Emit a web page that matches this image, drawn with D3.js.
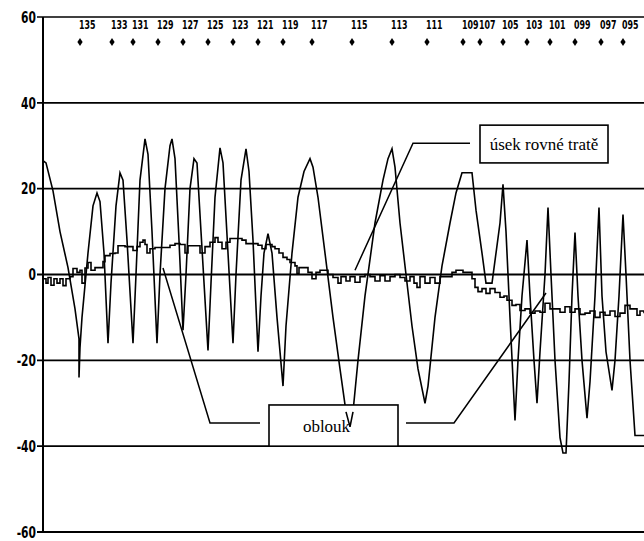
<!DOCTYPE html>
<html>
<head>
<meta charset="utf-8">
<script src="https://cdn.jsdelivr.net/npm/d3@7"></script>
<style>
  body { margin: 0; background: #fff; }
  svg { display: block; }
  .tick-label { font-family: 'DejaVu Sans', sans-serif; font-stretch: condensed; font-weight: bold; }
  .note { font-family: 'Liberation Serif', 'DejaVu Serif', serif; font-size: 17px; }
</style>
</head>
<body>
<script>
/* global d3 */
// position along the track (chart units), value
var bigPos = [0, 3, 10, 17, 25, 32, 36, 36, 37, 39, 45, 50, 54, 57, 61, 65, 68, 73, 77, 80, 84, 90, 93, 97, 102, 105, 109, 114, 117, 122, 127, 129, 132, 136, 140, 143, 147, 151, 154, 158, 165, 168, 172, 177, 180, 185, 190, 193, 198, 203, 206, 210, 215, 218, 221, 225, 229, 234, 240, 243, 249, 255, 261, 267, 270, 275, 282, 290, 297, 303, 307, 310, 315, 322, 332, 340, 345, 349, 352, 357, 363, 369, 375, 382, 385, 392, 399, 407, 413, 419, 429, 433, 439, 443, 449, 453, 457, 460, 463, 467, 472, 475, 479, 484, 487, 491, 494, 497, 502, 505, 508, 512, 517, 520, 523, 526, 529, 532, 535, 539, 544, 547, 552, 556, 559, 563, 569, 572, 576, 580, 583, 587, 592, 601]
var bigVal = [26.5, 26, 19.5, 10, 1.6, -8, -15, -24, -17, -10, 5, 16, 19, 17, 5, -16, -2, 16, 23.7, 22, 8, -16, 0, 22, 31.6, 28, 10, -16, 0, 20, 30, 31.6, 27, 8, -13, 0, 20, 27, 26, 10, -17.7, -2, 18, 29.5, 26, 5, -16, 0, 22, 29.3, 24, 8, -18, -5, 5, 9.5, 5, -10, -26, -12, 5, 18, 24, 27, 25, 18, 5, -10, -22, -32, -35.5, -32, -20, -5, 12, 22, 27, 29.3, 25, 12, 0, -12, -22, -30, -26, -10, 2, 12, 19, 23.7, 23.7, 15, 5, -2, -2, 5, 12, 21, 10, -10, -34, -20, -5, 8, -5, -20, -30, -18, 0, 15.6, 0, -20, -38, -41.6, -41.6, -25, -5, 9.8, -5, -20, -33.5, -25, -5, 15.6, -5, -18, -27, -20, -5, 14, 0, -20, -37.5, -37.5]

var smallPos = [0, 3, 5, 8, 11, 14, 17, 20, 23, 27, 30, 34, 37, 39, 42, 45, 48, 52, 57, 60, 62, 67, 72, 75, 82, 87, 90, 94, 97, 100, 102, 104, 107, 112, 117, 122, 127, 132, 137, 142, 145, 152, 157, 162, 167, 172, 175, 179, 183, 187, 193, 199, 203, 209, 215, 219, 223, 229, 232, 236, 240, 244, 247, 252, 254, 256, 261, 265, 269, 273, 277, 282, 285, 290, 295, 298, 303, 307, 312, 317, 322, 327, 332, 337, 342, 347, 352, 357, 362, 367, 371, 374, 377, 382, 387, 392, 397, 403, 409, 413, 416, 420, 425, 429, 432, 435, 439, 443, 447, 452, 457, 461, 464, 469, 473, 477, 482, 487, 492, 497, 502, 507, 512, 517, 522, 527, 532, 537, 542, 547, 552, 557, 562, 567, 572, 577, 582, 587, 590, 594, 597, 601]
var smallVal = [-1, -2, -0.7, -2.5, -1, -2, -1, -2.6, -1, -0.5, 1.4, 0.5, 1, -2, 1.5, 2.8, 1, 1.6, 1.6, 3, 4.4, 4.9, 5, 6.7, 6.5, 6.5, 5.6, 6.5, 7.5, 8, 7, 5, 6, 6.3, 6.3, 6.3, 6.8, 7.2, 7, 5, 6.7, 6.7, 5, 6.5, 7.5, 8.6, 7.5, 6, 7.5, 8.4, 8.4, 8, 7.2, 7.2, 6.8, 6, 7, 6.5, 6, 5, 4, 3.5, 2.8, 2, 0.2, 1.6, 1.6, 0.5, -1, 0.5, 1, 1, 0, -0.7, -2, -0.5, -1.5, -0.5, -1.8, -0.5, 0, -0.5, -1.5, -0.3, -1.5, -0.5, 0, -0.7, -1.5, -0.5, -2, -3, -0.5, -2, -0.7, -2, -0.5, -0.5, 0.5, 1, 1, 0.5, 0.5, -1, -3, -4, -3.3, -4.4, -3.3, -4.2, -5.3, -5, -6, -7.2, -7, -8.4, -8, -9, -8.5, -8.8, -6.7, -8, -8, -8.8, -7.5, -8.8, -8, -9.3, -9, -8.5, -10, -8.8, -9.5, -8.5, -9.8, -9, -7.2, -8, -8, -9.5, -8.5, -9]

var stationNames = ['135', '133', '131', '129', '127', '125', '123', '121', '119', '117', '115', '113', '111', '109', '107', '105', '103', '101', '099', '097', '095']
var stationPos = [37, 69, 90, 115, 140, 165, 190, 215, 240, 269, 309, 349, 384, 420, 437, 460, 484, 507, 532, 558, 580]

var yTicks = [60, 40, 20, 0, -20, -40, -60]

var width = 644
var height = 541
var margin = {left: 43, top: 17}

var x = d3.scaleLinear()
  .domain([0, 601])
  .range([margin.left, width])

var y = d3.scaleLinear()
  .domain([-60, 60])
  .range([532, margin.top])

var svg = d3.select('body').append('svg')
  .attr('width', width)
  .attr('height', height)

// grid lines
svg.selectAll('.grid')
  .data(yTicks)
  .enter().append('line')
  .attr('class', 'grid')
  .attr('x1', x(0) - 6)
  .attr('x2', width)
  .attr('y1', function (d) { return y(d) })
  .attr('y2', function (d) { return y(d) })
  .attr('stroke', '#000')
  .attr('stroke-width', function (d) { return d === 60 ? 1.3 : 1.8 })

svg.append('line')
  .attr('x1', x(0))
  .attr('x2', x(0))
  .attr('y1', y(60))
  .attr('y2', y(-60))
  .attr('stroke', '#000')
  .attr('stroke-width', 2)

svg.selectAll('.ylab')
  .data(yTicks)
  .enter().append('text')
  .attr('class', 'tick-label')
  .attr('transform', function (d) { return 'translate(' + (x(0) - 7) + ',' + y(d) + ') scale(0.85,1.15)' })
  .attr('dy', '0.36em')
  .attr('text-anchor', 'end')
  .style('font-size', '14px')
  .text(function (d) { return d })

// station labels and markers
svg.selectAll('.stlab')
  .data(stationNames)
  .enter().append('text')
  .attr('class', 'tick-label')
  .attr('transform', function (d, i) { return 'translate(' + (x(stationPos[i]) - 1) + ',29) scale(0.8,1.1)' })
  .style('font-size', '11px')
  .text(function (d) { return d })

svg.selectAll('.st')
  .data(stationPos)
  .enter().append('path')
  .attr('d', function (d) {
    var cx = x(d)
    return 'M' + cx + ',38L' + (cx + 2.6) + ',42L' + cx + ',46L' + (cx - 2.6) + ',42Z'
  })
  .attr('fill', '#000')

var line = d3.line()
  .x(function (d) { return x(d[0]) })
  .y(function (d) { return y(d[1]) })

var smallData = smallPos.map(function (p, i) { return [p, smallVal[i]] })
var bigData = bigPos.map(function (p, i) { return [p, bigVal[i]] })

svg.append('path')
  .datum(smallData)
  .attr('d', line.curve(d3.curveStepAfter))
  .attr('fill', 'none')
  .attr('stroke', '#000')
  .attr('stroke-width', 1.6)

svg.append('path')
  .datum(bigData)
  .attr('d', line.curve(d3.curveLinear))
  .attr('fill', 'none')
  .attr('stroke', '#000')
  .attr('stroke-width', 1.6)

// annotations (chart units)
var notes = [
  {text: 'úsek rovné tratě', p0: 437, p1: 565, v0: 34.8, v1: 26},
  {text: 'oblouk', p0: 226, p1: 355, v0: -30.4, v1: -40}
]
var leaders = [
  [[427, 30.6], [370, 30.6], [312, 1]],
  [[120, 1.5], [167, -34.6], [217, -34.6]],
  [[363, -34.6], [411, -34.6], [503, -4.3]]
]

svg.selectAll('.leader')
  .data(leaders)
  .enter().append('path')
  .attr('d', line.curve(d3.curveLinear))
  .attr('fill', 'none')
  .attr('stroke', '#000')
  .attr('stroke-width', 1.5)

var note = svg.selectAll('.note-g')
  .data(notes)
  .enter().append('g')

note.append('rect')
  .attr('x', function (d) { return x(d.p0) })
  .attr('y', function (d) { return y(d.v0) })
  .attr('width', function (d) { return x(d.p1) - x(d.p0) })
  .attr('height', function (d) { return y(d.v1) - y(d.v0) })
  .attr('fill', '#fff')
  .attr('stroke', '#000')
  .attr('stroke-width', 1.6)

note.append('text')
  .attr('class', 'note')
  .attr('x', function (d) { return (x(d.p0) + x(d.p1)) / 2 - (d.text === 'oblouk' ? 7 : 0) })
  .attr('y', function (d) { return (y(d.v0) + y(d.v1)) / 2 })
  .attr('dy', '0.35em')
  .attr('text-anchor', 'middle')
  .text(function (d) { return d.text })

// the trough passes over the oblouk box
svg.append('path')
  .datum(bigData.filter(function (d) { return d[0] >= 303 && d[0] <= 310 }))
  .attr('d', line.curve(d3.curveLinear))
  .attr('fill', 'none')
  .attr('stroke', '#000')
  .attr('stroke-width', 1.6)
</script>
</body>
</html>
